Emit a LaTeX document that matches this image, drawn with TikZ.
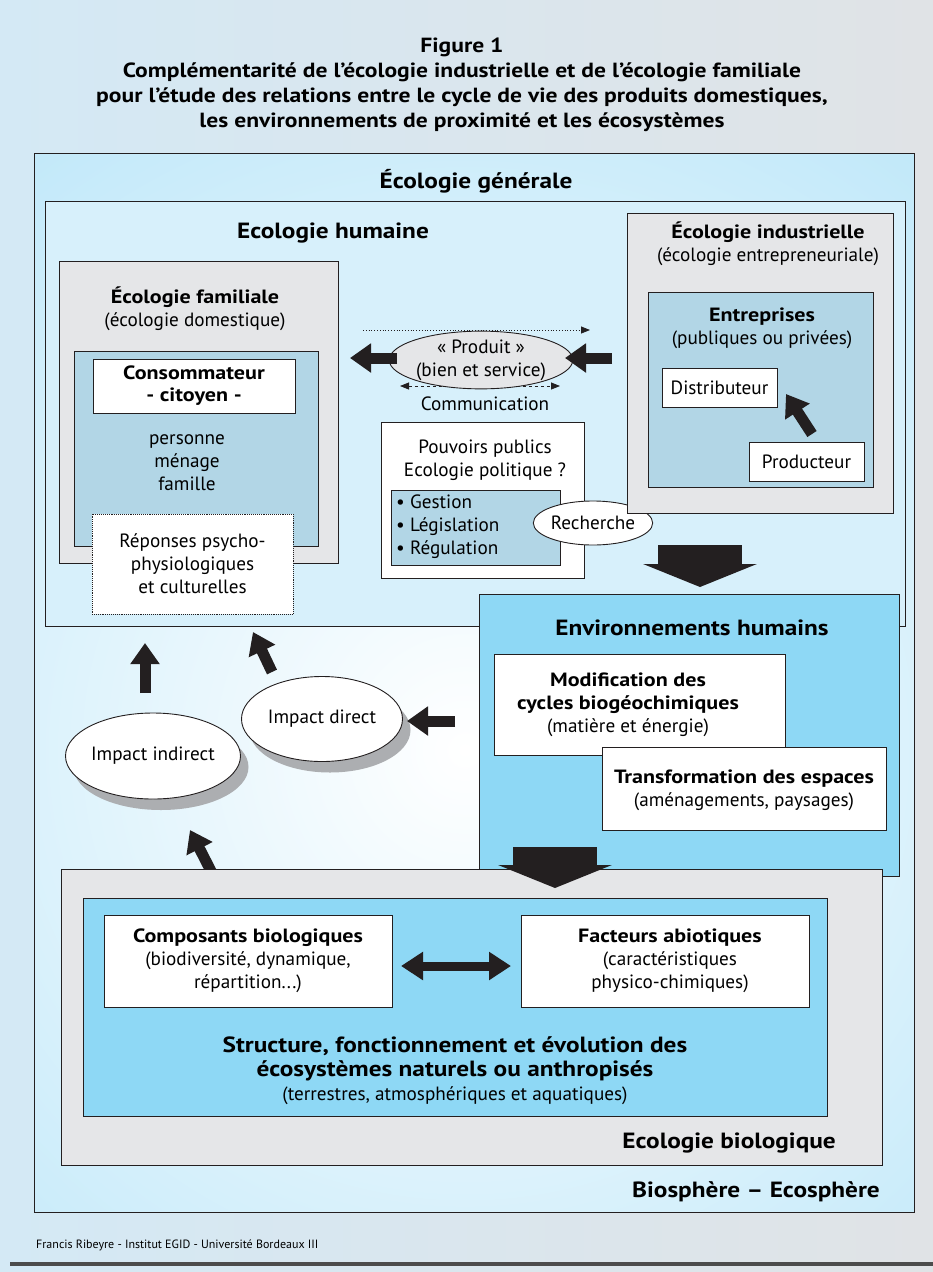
\documentclass[tikz,border=0pt]{standalone}
\usepackage{fontspec}
\setmainfont{PT Sans}[BoldFeatures={FakeStretch=1.15}]
\usetikzlibrary{arrows.meta,shapes.geometric,shadows}

\definecolor{pageblue}{RGB}{212,233,245}
\definecolor{pagegrey}{RGB}{224,227,230}
\definecolor{bioblue}{RGB}{181,228,248}
\definecolor{humblue}{RGB}{215,240,251}
\definecolor{boxgrey}{RGB}{229,230,232}
\definecolor{steelblue}{RGB}{178,214,230}
\definecolor{skyblue}{RGB}{142,216,245}
\definecolor{inkblack}{RGB}{35,31,32}
\definecolor{shadowgrey}{RGB}{172,174,177}

\tikzset{
  frame/.style={draw=inkblack, line width=0.9pt, inner sep=0pt, outer sep=0pt, anchor=north west},
  txt/.style={align=center, inner sep=0pt, font=\fontsize{19.2}{23}\selectfont},
  headtxt/.style={inner sep=0pt, font=\fontsize{22}{26}\selectfont\bfseries},
  oval/.style={ellipse, draw=inkblack, line width=0.9pt, fill=white, inner sep=0pt, align=center, font=\fontsize{19.2}{23}\selectfont},
  shadowed/.style={drop shadow={shadow xshift=8pt, shadow yshift=-11pt, fill=shadowgrey, opacity=1}},
  fatarrow/.style={draw=inkblack, line width=11pt, -{Triangle[width=28pt,length=21pt]}},
  hugearrow/.style={draw=inkblack, line width=84pt, -{Triangle[width=113pt,length=23pt]}},
  thinarrow/.style={draw=inkblack, line width=0.8pt},
}

\begin{document}
\begin{tikzpicture}[x=1pt, y=-1pt]
  \useasboundingbox (0,0) rectangle (933,1272);
  \shade[left color=pageblue, right color=pagegrey] (0,0) rectangle (933,1272);

  % title
  \node[txt, font=\fontsize{20.5}{25}\selectfont\bfseries] (titre) at (462,85)
    {Figure 1\\Complémentarité de l’écologie industrielle et de l’écologie familiale\\
     pour l’étude des relations entre le cycle de vie des produits domestiques,\\
     les environnements de proximité et les écosystèmes};

  % biosphere
  \fill[bioblue] (34,153) rectangle (914,1212);
  \begin{scope}
    \clip (34,153) rectangle (914,1212);
    \shade[inner color=white, outer color=bioblue] (465,750) circle (900);
  \end{scope}
  \node[frame, minimum width=880pt, minimum height=1059pt] (biosphere) at (34,153) {};
  \node[headtxt] (generale) at (476,181) {Écologie générale};

  % ecologie humaine
  \node[frame, fill=humblue, minimum width=860pt, minimum height=425pt] (humaine) at (45,201) {};
  \node[headtxt] (humainetitre) at (333,233) {Ecologie humaine};

  % ecologie familiale
  \node[frame, fill=boxgrey, minimum width=279pt, minimum height=302pt] (familiale) at (59,261) {};
  \node[txt] (familialetitre) at (195,309) {\textbf{Écologie familiale}\\(écologie domestique)};
  \node[frame, fill=steelblue, minimum width=244pt, minimum height=195pt] (menage) at (74,351) {};
  \node[frame, fill=white, minimum width=202pt, minimum height=54pt] (consommateur) at (93,359) {};
  \node[txt, font=\fontsize{19.2}{22}\selectfont\bfseries] at (consommateur.center) {Consommateur\\- citoyen -};
  \node[txt] (personne) at (187,463) {personne\\ménage\\famille};
  \node[frame, fill=white, densely dotted, minimum width=201pt, minimum height=100pt] (reponses) at (92,514) {};
  \node[txt] at (reponses.center) {Réponses psycho-\\physiologiques\\et culturelles};

  % produit
  \coordinate (flux1) at (363,330);
  \coordinate (flux2) at (590,330);
  \coordinate (com1) at (400,386);
  \coordinate (com2) at (560,386);
  \draw[thinarrow, dotted, -{Triangle[width=7pt,length=9pt]}] (flux1) -- (flux2);
  \draw[thinarrow, dashed, {Triangle[width=7pt,length=9pt]}-{Triangle[width=7pt,length=9pt]}] (com1) -- (com2);
  \node[oval, fill=boxgrey, minimum width=162pt, minimum height=56pt] (produit) at (481,360) {« Produit »\\(bien et service)};
  \node[txt] (communication) at (485,404) {Communication};
  \coordinate (versfam1) at (397,358);
  \coordinate (versfam2) at (350,358);
  \coordinate (versprod1) at (612,358);
  \coordinate (versprod2) at (565,358);
  \draw[fatarrow] (versfam1) -- (versfam2);
  \draw[fatarrow] (versprod1) -- (versprod2);

  % pouvoirs publics
  \node[frame, fill=white, minimum width=203pt, minimum height=156pt] (pouvoirs) at (381,422) {};
  \node[txt] (pouvoirstitre) at (485,460) {Pouvoirs publics\\Ecologie politique ?};
  \node[frame, fill=steelblue, minimum width=169pt, minimum height=75pt] (actions) at (391,490) {};
  \node[txt, align=left, anchor=west] (liste) at (396,527) {• Gestion\\• Législation\\• Régulation};
  \node[oval, minimum width=114pt, minimum height=44pt] (recherche) at (593,523) {Recherche};

  % ecologie industrielle
  \node[frame, fill=boxgrey, minimum width=266pt, minimum height=300pt] (industrielle) at (627,213) {};
  \node[txt] (industrielletitre) at (768,244) {\textbf{Écologie industrielle}\\(écologie entrepreneuriale)};
  \node[frame, fill=steelblue, minimum width=225pt, minimum height=195pt] (entreprises) at (648,292) {};
  \node[txt] (entreprisestitre) at (762,328) {\textbf{Entreprises}\\(publiques ou privées)};
  \node[frame, fill=white, minimum width=115pt, minimum height=39pt] (distributeur) at (662,368) {};
  \node[txt] at (distributeur.center) {Distributeur};
  \node[frame, fill=white, minimum width=115pt, minimum height=39pt] (producteur) at (749,442) {};
  \node[txt] at (producteur.center) {Producteur};
  \coordinate (livraison1) at (812,434);
  \coordinate (livraison2) at (786,394);
  \draw[fatarrow] (livraison1) -- (livraison2);

  \coordinate (chute1) at (700,545);
  \coordinate (chute2) at (700,587);
  \draw[hugearrow] (chute1) -- (chute2);

  % environnements humains
  \node[frame, fill=skyblue, minimum width=420pt, minimum height=282pt] (environnements) at (479,594) {};
  \node[headtxt] (envtitre) at (692,628) {Environnements humains};
  \node[frame, fill=white, minimum width=291pt, minimum height=101pt] (modification) at (494,654) {};
  \node[txt] at (628,705) {\textbf{Modification des}\\\textbf{cycles biogéochimiques}\\(matière et énergie)};
  \node[frame, fill=white, minimum width=284pt, minimum height=83pt] (transformation) at (602,747) {};
  \node[txt] at (744,790) {\textbf{Transformation des espaces}\\(aménagements, paysages)};

  % impacts
  \node[oval, shadowed, minimum width=161pt, minimum height=85pt] (direct) at (322,719) {Impact direct};
  \node[oval, shadowed, minimum width=162pt, minimum height=86pt] (indirect) at (153,756) {Impact indirect};
  \coordinate (monte1) at (145,693);
  \coordinate (monte2) at (145,643);
  \coordinate (diag1) at (272,672);
  \coordinate (diag2) at (253,632);
  \coordinate (entre1) at (455,721);
  \coordinate (entre2) at (407,721);
  \coordinate (remonte1) at (212,873);
  \coordinate (remonte2) at (190,830);
  \draw[fatarrow] (monte1) -- (monte2);
  \draw[fatarrow] (diag1) -- (diag2);
  \draw[fatarrow] (entre1) -- (entre2);
  \draw[fatarrow] (remonte1) -- (remonte2);

  % ecologie biologique
  \node[frame, fill=boxgrey, minimum width=821pt, minimum height=296pt] (biologique) at (61,869) {};
  \node[frame, fill=skyblue, minimum width=744pt, minimum height=218pt] (ecosystemes) at (83,898) {};
  \node[frame, fill=white, minimum width=288pt, minimum height=92pt] (composants) at (104,915) {};
  \node[txt] at (composants.center) {\textbf{Composants biologiques}\\(biodiversité, dynamique,\\répartition...)};
  \node[frame, fill=white, minimum width=288pt, minimum height=92pt] (facteurs) at (521,915) {};
  \node[txt] at ([xshift=5pt]facteurs.center) {\textbf{Facteurs abiotiques}\\(caractéristiques\\physico-chimiques)};
  \coordinate (echange1) at (401,966);
  \coordinate (echange2) at (511,966);
  \draw[draw=inkblack, line width=9pt, {Triangle[width=27pt,length=22pt]}-{Triangle[width=27pt,length=22pt]}] (echange1) -- (echange2);
  \node[txt, font=\fontsize{22}{24}\selectfont] (structure) at (455,1071)
    {\textbf{Structure, fonctionnement et évolution des}\\\textbf{écosystèmes naturels ou anthropisés}\\{\fontsize{19.2}{23}\selectfont(terrestres, atmosphériques et aquatiques)}};
  \node[headtxt, anchor=east] (biologiquetitre) at (836,1143) {Ecologie biologique};

  \coordinate (chute3) at (555,847);
  \coordinate (chute4) at (555,888);
  \draw[hugearrow] (chute3) -- (chute4);

  \node[headtxt, anchor=east] (ecosphere) at (880,1192) {Biosphère – Ecosphère};

  % footer
  \node[txt, anchor=west, font=\fontsize{12}{14}\selectfont] (auteur) at (36,1245) {Francis Ribeyre - Institut EGID - Université Bordeaux III};
  \draw[draw=black!70, line width=4pt] (10,1264) -- (933,1264);
\end{tikzpicture}
\end{document}
